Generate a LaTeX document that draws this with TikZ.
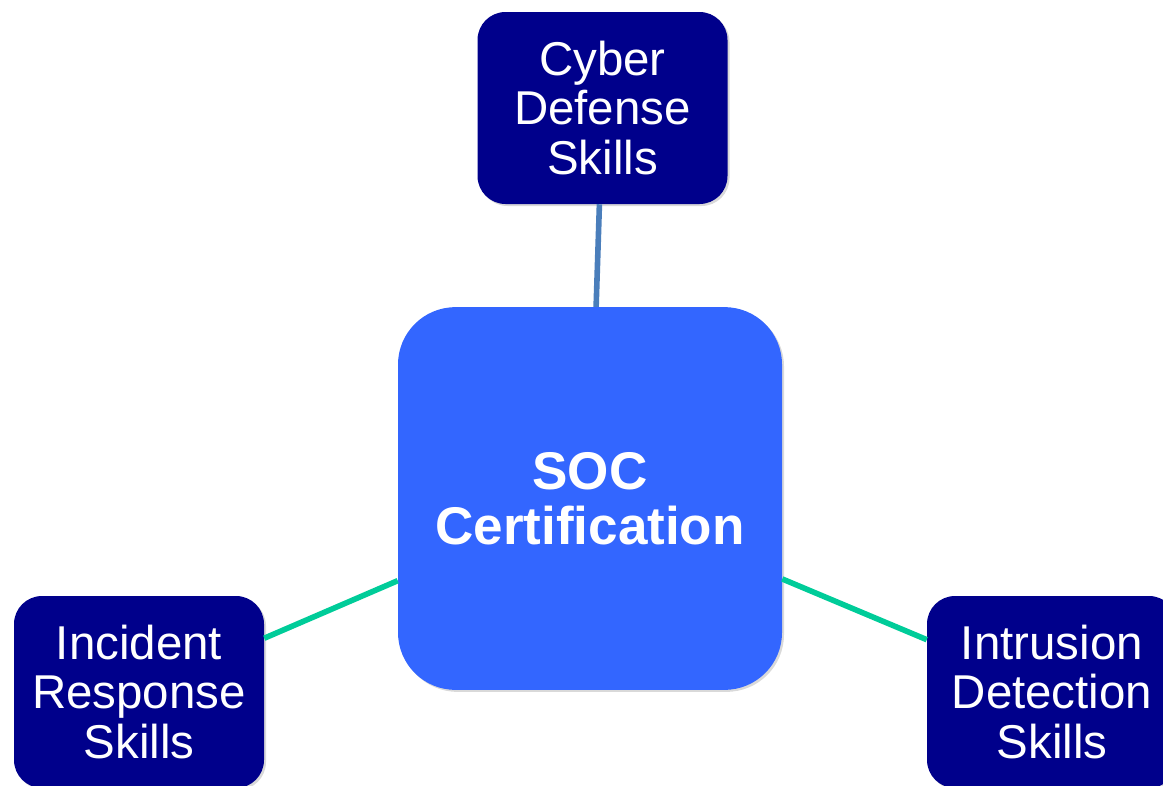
\documentclass[tikz,border=0pt]{standalone}
\usepackage{fontspec}
\setmainfont{Liberation Sans}
\usetikzlibrary{shadows}
\definecolor{skillnavy}{RGB}{0,0,139}
\definecolor{socblue}{RGB}{51,102,255}
\definecolor{linkgreen}{RGB}{0,204,153}
\definecolor{linksteel}{RGB}{74,126,187}
\begin{document}
\begin{tikzpicture}[x=0.75pt,y=-0.75pt,
  skill/.style={fill=skillnavy, text=white, rounded corners=21pt, minimum width=187.5pt, minimum height=144pt, inner sep=0pt, align=center, font=\fontsize{35.6}{36.8}\selectfont, drop shadow={opacity=0.3, shadow xshift=1.5pt, shadow yshift=-1.5pt}},
  core/.style={fill=socblue, text=white, rounded corners=43pt, minimum width=288pt, minimum height=287pt, inner sep=0pt, align=center, font=\fontsize{39.8}{41.3}\selectfont\bfseries, drop shadow={opacity=0.3, shadow xshift=1.5pt, shadow yshift=-1.5pt}},
  link/.style={line width=4.2pt}]
\useasboundingbox (0,0) rectangle (1163,785);
\clip (0,0) rectangle (1163,785);
\node[core] (soc) at (590,498.5) {SOC\\Certification};

\node[skill] (cyber) at (602.5,108) {Cyber\\Defense\\Skills};
\node[skill] (incident) at (139,692) {Incident\\Response\\Skills};
\node[skill] (intrusion) at (1052,692) {Intrusion\\Detection\\Skills};

\path[draw,link,linksteel] (cyber) -- (soc);
\path[draw,link,linkgreen] (incident) -- (soc);
\path[draw,link,linkgreen] (intrusion) -- (soc);
\end{tikzpicture}
\end{document}
